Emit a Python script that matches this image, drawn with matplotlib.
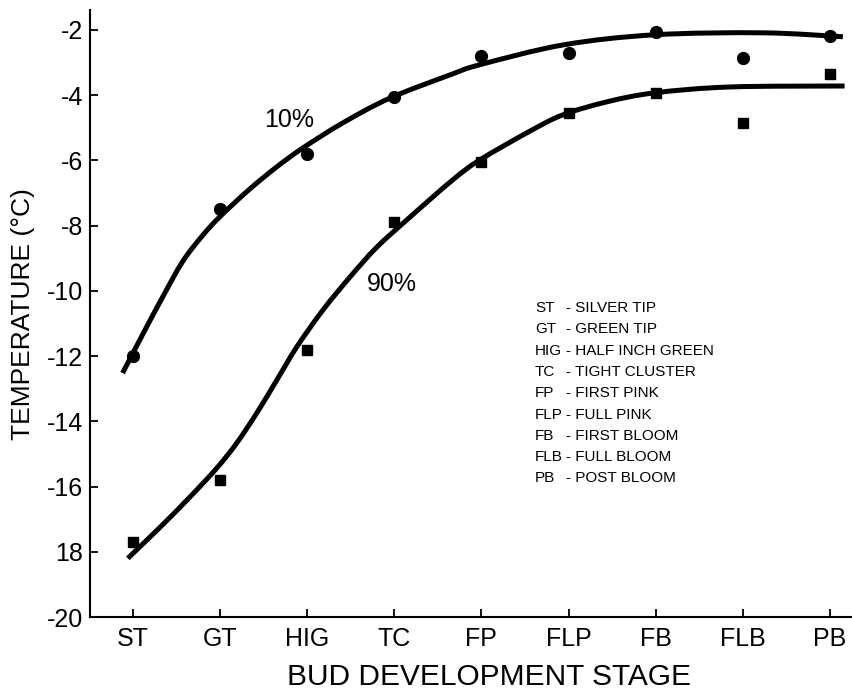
import matplotlib
matplotlib.use("Agg")
import matplotlib.pyplot as plt
from matplotlib.path import Path
from matplotlib.patches import PathPatch

plt.rcParams["font.family"] = ["Liberation Sans", "DejaVu Sans"]

# bud stages on the x axis
stages = ["ST", "GT", "HIG", "TC", "FP", "FLP", "FB", "FLB", "PB"]
stage_pos = list(range(len(stages)))

# measured killing temperatures (deg C)
temp_10 = [-12.0, -7.5, -5.8, -4.05, -2.8, -2.7, -2.05, -2.85, -2.2]
temp_90 = [-17.7, -15.8, -11.8, -7.9, -6.05, -4.55, -3.95, -4.85, -3.35]

# fitted curves
curve10_x = [-0.12, 0.12, 0.34, 0.57, 0.8, 1.0, 1.34, 1.65, 1.95, 2.41, 2.95,
             3.64, 3.98, 4.94, 5.99, 7.23, 8.15]
curve10_y = [-12.52, -11.29, -10.19, -9.1, -8.3, -7.72, -6.88, -6.2, -5.62,
             -4.85, -4.09, -3.38, -3.07, -2.46, -2.15, -2.09, -2.21]
curve90_x = [-0.06, 0.31, 0.65, 0.96, 1.19, 1.42, 1.65, 1.88, 2.18, 2.49, 2.8,
             3.18, 3.67, 3.98, 4.56, 4.94, 5.45, 5.99, 6.85, 8.17]
curve90_y = [-18.2, -17.25, -16.33, -15.44, -14.67, -13.75, -12.74, -11.72,
             -10.59, -9.58, -8.66, -7.74, -6.6, -5.99, -5.1, -4.6, -4.2,
             -3.93, -3.75, -3.72]

ytick_vals = [-2, -4, -6, -8, -10, -12, -14, -16, -18, -20]
ytick_labels = ["-2", "-4", "-6", "-8", "-10", "-12", "-14", "-16", "18", "-20"]

legend_abbr = ["ST", "GT", "HIG", "TC", "FP", "FLP", "FB", "FLB", "PB"]
legend_desc = ["SILVER TIP", "GREEN TIP", "HALF INCH GREEN", "TIGHT CLUSTER",
               "FIRST PINK", "FULL PINK", "FIRST BLOOM", "FULL BLOOM",
               "POST BLOOM"]


def smooth_path(xs, ys):
    """Bezier path through the read points (Catmull-Rom style handles)."""
    pts = list(zip(xs, ys))
    verts = [pts[0]]
    codes = [Path.MOVETO]
    n = len(pts)
    for i in range(n - 1):
        p0 = pts[max(i - 1, 0)]
        p1 = pts[i]
        p2 = pts[i + 1]
        p3 = pts[min(i + 2, n - 1)]
        c1 = (p1[0] + (p2[0] - p0[0]) / 6, p1[1] + (p2[1] - p0[1]) / 6)
        c2 = (p2[0] - (p3[0] - p1[0]) / 6, p2[1] - (p3[1] - p1[1]) / 6)
        verts += [c1, c2, p2]
        codes += [Path.CURVE4] * 3
    return Path(verts, codes)


W, H = 853, 693
fig = plt.figure(figsize=(W / 100, H / 100), dpi=100)
ax = fig.add_axes([90 / W, 1 - 617 / H, (852 - 90) / W, (617 - 10) / H])

for cx, cy in [(curve10_x, curve10_y), (curve90_x, curve90_y)]:
    ax.add_patch(PathPatch(smooth_path(cx, cy), facecolor="none",
                           edgecolor="black", lw=3.6, capstyle="butt"))
ax.plot(stage_pos, temp_10, "o", color="black", ms=8.5, ls="none")
ax.plot(stage_pos, temp_90, "s", color="black", ms=7, ls="none")

ax.text(1.79, -4.76, "10%", fontsize=18, ha="center", va="center")
ax.text(2.97, -9.79, "90%", fontsize=18, ha="center", va="center")

# stage key
for i, (abbr, desc) in enumerate(zip(legend_abbr, legend_desc)):
    yp = 1 - (308 + i * 21.3) / H
    fig.text(535 / W, yp, abbr, fontsize=11, ha="left", va="center")
    fig.text(566 / W, yp, "- " + desc, fontsize=11, ha="left", va="center")

ax.set_xlim(-0.494, 8.255)
ax.set_ylim(-20, -1.39)
ax.set_xticks(stage_pos)
ax.set_xticklabels(stages)
ax.set_yticks(ytick_vals)
ax.set_yticklabels(ytick_labels)
ax.tick_params(direction="in", length=6, width=1.3, labelsize=18)
ax.tick_params(axis="x", pad=7)
ax.tick_params(axis="y", pad=5)

for side in ["top", "right"]:
    ax.spines[side].set_visible(False)
for side in ["left", "bottom"]:
    ax.spines[side].set_linewidth(1.5)

fig.text(489 / W, 1 - 677 / H, "BUD DEVELOPMENT STAGE", fontsize=21.5,
         ha="center", va="center")
fig.text(23 / W, 1 - 314 / H, "TEMPERATURE (°C)", fontsize=19,
         ha="center", va="center", rotation=90)

fig.savefig("out.png", dpi=100)
